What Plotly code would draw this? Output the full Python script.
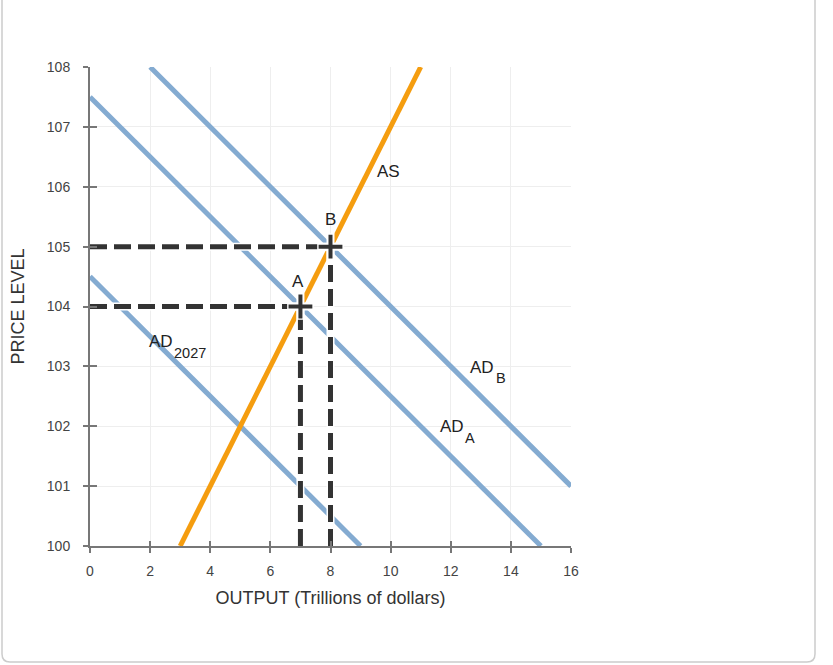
import plotly.graph_objects as go

# Data
as_x = [3, 11]; as_y = [100, 108]
ad2027_x = [0, 9]; ad2027_y = [104.5, 100]
ada_x = [0, 15]; ada_y = [107.5, 100]
adb_x = [2, 16]; adb_y = [108, 101]
point_labels = ["A", "B"]
point_x = [7, 8]
point_y = [104, 105]

BLUE = "#84abd1"
ORANGE = "#f59d0f"
DARK = "#333333"
FONT = "Liberation Sans, Arial, sans-serif"

fig = go.Figure()

for xs, ys in [(ad2027_x, ad2027_y), (ada_x, ada_y), (adb_x, adb_y)]:
    fig.add_trace(go.Scatter(x=xs, y=ys, mode="lines", line=dict(color=BLUE, width=5),
                             hoverinfo="skip", showlegend=False))
fig.add_trace(go.Scatter(x=as_x, y=as_y, mode="lines", line=dict(color=ORANGE, width=5),
                         hoverinfo="skip", showlegend=False))

# dashed guide lines
for px, py in zip(point_x, point_y):
    for xs, ys in [([0, px], [py, py]), ([px, px], [100, py])]:
        fig.add_trace(go.Scatter(x=xs, y=ys, mode="lines", line=dict(color="white", width=8),
                                 hoverinfo="skip", showlegend=False))
        fig.add_trace(go.Scatter(x=xs, y=ys, mode="lines",
                                 line=dict(color=DARK, width=5, dash="17px,7px"),
                                 hoverinfo="skip", showlegend=False))

fig.add_trace(go.Scatter(x=point_x, y=point_y, mode="markers",
                         marker=dict(symbol="cross-thin", size=19, line=dict(color="white", width=8)),
                         hoverinfo="skip", showlegend=False))
fig.add_trace(go.Scatter(x=point_x, y=point_y, mode="markers",
                         marker=dict(symbol="cross-thin", size=17, line=dict(color=DARK, width=4)),
                         hoverinfo="skip", showlegend=False))

# dummy for overlay axes
fig.add_trace(go.Scatter(x=[0], y=[100], xaxis="x2", yaxis="y2", mode="markers",
                         marker=dict(opacity=0), hoverinfo="skip", showlegend=False))

main_font = dict(family=FONT, size=17, color="#222")
sub_font = dict(family=FONT, size=14.5, color="#222")
ann = [
    dict(x=9.93, y=106.26, text="AS", xanchor="center", font=main_font),
    dict(x=8.0, y=105.46, text="B", xanchor="center", font=main_font),
    dict(x=6.93, y=104.42, text="A", xanchor="center", font=main_font),
    dict(x=1.93, y=103.42, text="AD", xanchor="left", font=main_font),
    dict(x=2.76, y=103.23, text="2027", xanchor="left", font=sub_font),
    dict(x=12.61, y=102.98, text="AD", xanchor="left", font=main_font),
    dict(x=13.47, y=102.81, text="B", xanchor="left", font=sub_font),
    dict(x=11.61, y=101.99, text="AD", xanchor="left", font=main_font),
    dict(x=12.44, y=101.80, text="A", xanchor="left", font=sub_font),
]
annotations = [dict(xref="x", yref="y", showarrow=False, borderpad=0, yanchor="middle", **a)
               for a in ann]

# card border (pixels -> paper)
def fmt(px, py):
    x, y = (px - 90) / 481, (546 - py) / 479
    return f"{x:.5f},{y:.5f}"
L, R, T, B, r = 2, 815, -20, 662, 8
path = (f"M {fmt(L, T)} L {fmt(L, B - r)} Q {fmt(L, B)} {fmt(L + r, B)} "
        f"L {fmt(R - r, B)} Q {fmt(R, B)} {fmt(R, B - r)} L {fmt(R, T)}")

axis_common = dict(showline=True, linecolor="#777", linewidth=2, ticks="outside",
                   tickcolor="#777", tickwidth=2, ticklen=5, zeroline=False,
                   gridcolor="#eeeeee", gridwidth=1,
                   tickfont=dict(family=FONT, size=14, color="#444"))

fig.update_layout(
    width=833, height=665,
    margin=dict(l=90, r=262, t=67, b=119),
    plot_bgcolor="white", paper_bgcolor="white",
    xaxis=dict(range=[0, 16], dtick=2, tick0=0, **axis_common, ticklabelstandoff=6,
               title=dict(text="OUTPUT (Trillions of dollars)", standoff=14,
                          font=dict(family=FONT, size=18, color="#333"))),
    yaxis=dict(range=[100, 108], dtick=1, tick0=100, **axis_common, ticklabelstandoff=10,
               title=dict(text="PRICE LEVEL", standoff=18,
                          font=dict(family=FONT, size=18, color="#333"))),
    xaxis2=dict(range=[0, 16], dtick=2, tick0=0, overlaying="x", ticks="inside", ticklen=5,
                tickcolor="#777", tickwidth=2, showticklabels=False, showgrid=False,
                zeroline=False, showline=False),
    yaxis2=dict(range=[100, 108], dtick=1, tick0=100, overlaying="y", ticks="inside", ticklen=7,
                tickcolor="#777", tickwidth=2, showticklabels=False, showgrid=False,
                zeroline=False, showline=False),
    annotations=annotations,
    shapes=[dict(type="path", xref="paper", yref="paper", path=path,
                 line=dict(color="#cccccc", width=1.5), layer="below")],
)

fig.write_html("out.html")
